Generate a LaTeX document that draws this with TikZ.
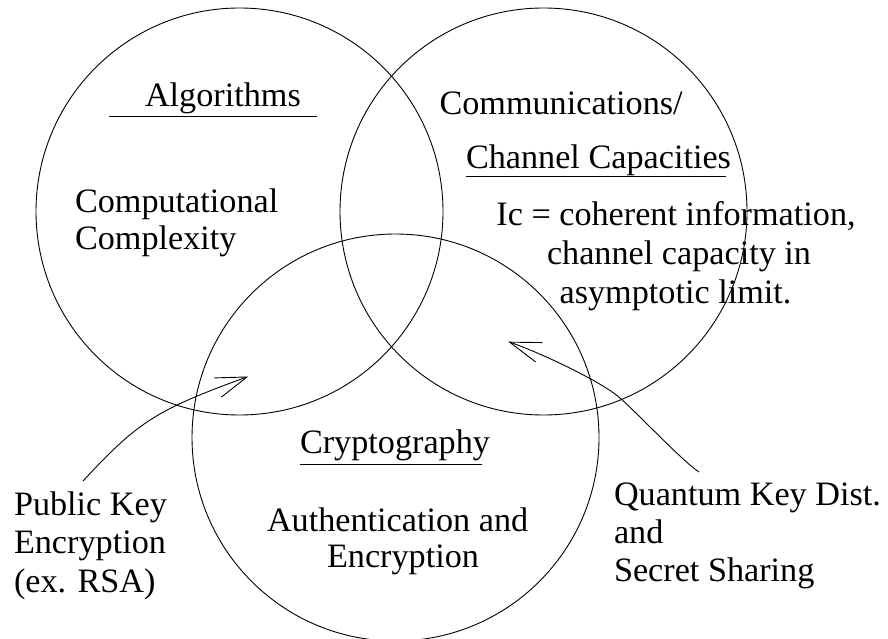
\documentclass[tikz,border=0pt]{standalone}
\usepackage{fontspec}
\setmainfont{Liberation Serif}
\usetikzlibrary{arrows.meta}
\tikzset{
  ring/.style={draw=black, line width=0.9pt},
  txt/.style={anchor=base west, inner sep=0pt, outer sep=0pt, font=\fontsize{34.2}{38.5}\selectfont},
  ctxt/.style={anchor=base, inner sep=0pt, outer sep=0pt, font=\fontsize{34.2}{38.5}\selectfont},
  uline/.style={draw=black, line width=1pt},
  pointer/.style={draw=black, line width=0.9pt, -{Straight Barb[length=31pt, width=20.5pt]}}
}
\begin{document}
\begin{tikzpicture}[x=1pt, y=-1pt]
\useasboundingbox (0,0) rectangle (888,639);
\fill[white] (0,0) rectangle (888,639);
\begin{scope}
\clip (0,0) rectangle (888,639);
% circles
\draw[ring] (239.5,211.5) circle[radius=203.5pt];
\draw[ring] (543.5,211.5) circle[radius=203.5pt];
\draw[ring] (395.5,437.5) circle[radius=203.5pt];
\end{scope}

% Algorithms circle texts
\node[txt] (alg) at (145,107) {Algorithms};
\draw[uline] (109,116.3) -- (317,116.3);
\node[txt] (comp1) at (75,212) {Computational};
\node[txt] (comp2) at (75,249) {Complexity};

% Communications circle texts
\node[txt] (comm1) at (439.5,115) {Communications/};
\node[txt] (comm2) at (466,168) {Channel Capacities};
\draw[uline] (466,176.7) -- (726,176.7);
\node[ctxt] (ic1) at (676,225) {Ic = coherent information,};
\node[ctxt] (ic2) at (679,264) {channel capacity in};
\node[ctxt] (ic3) at (675.5,303) {asymptotic limit.};

% Cryptography circle texts
\node[txt] (cry) at (300,453) {Cryptography};
\draw[uline] (300,464) -- (482,464);
\node[txt] (auth1) at (267,531) {Authentication and};
\node[txt] (auth2) at (327,567) {Encryption};

% outside labels
\node[txt] (pk1) at (14,515) {Public Key};
\node[txt] (pk2) at (14,553) {Encryption};
\node[txt] (pk3) at (14,592) {(ex. RSA)};

\node[txt] (qk1) at (614,505) {Quantum Key Dist.};
\node[txt] (qk2) at (614,543) {and};
\node[txt] (qk3) at (614,581) {Secret Sharing};

% arrows
\coordinate (pkStart) at (83,481);
\coordinate (pkTip) at (248.3,376.5);
\draw[pointer] (pkStart) .. controls (137.4,422.6) and (154.3,410.5) .. (pkTip);

\coordinate (qkStart) at (699,472);
\coordinate (qkMid) at (620,398);
\coordinate (qkTip) at (508.3,341.7);
\draw[pointer] (qkStart) .. controls (682.3,461) and (638.75,414.5) .. (qkMid)
  .. controls (601.25,381.5) and (541.4,353.1) .. (qkTip);
\end{tikzpicture}
\end{document}
